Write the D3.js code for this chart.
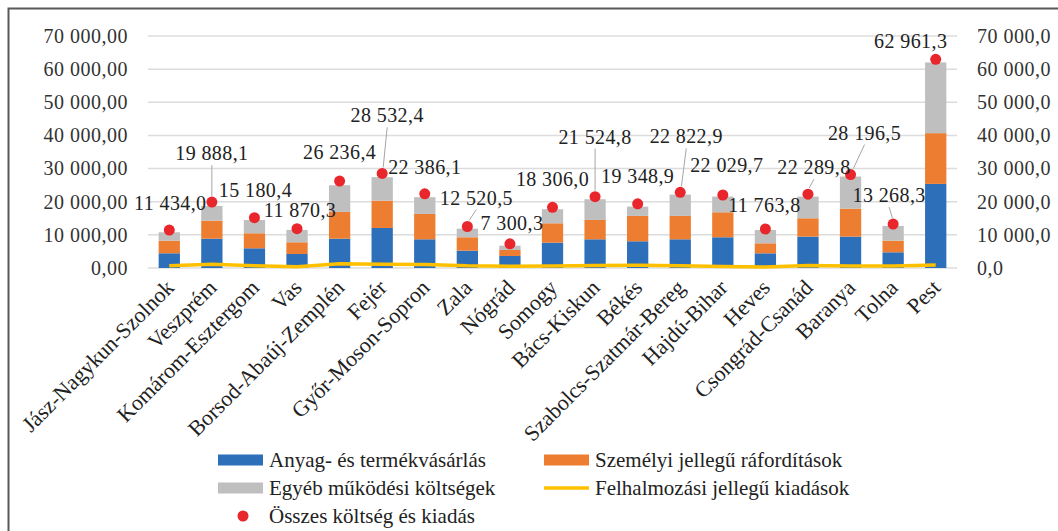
<!DOCTYPE html>
<html>
<head>
<meta charset="utf-8">
<script src="https://cdn.jsdelivr.net/npm/d3@7"></script>
<style>
  body { margin: 0; background: #fff; }
  svg { display: block; font-family: "Liberation Serif", "Times New Roman", serif; }
</style>
</head>
<body>
<svg width="1058" height="531"></svg>
<script>
// megyék
var counties = ["Jász-Nagykun-Szolnok", "Veszprém", "Komárom-Esztergom", "Vas", "Borsod-Abaúj-Zemplén",
  "Fejér", "Győr-Moson-Sopron", "Zala", "Nógrád", "Somogy", "Bács-Kiskun", "Békés",
  "Szabolcs-Szatmár-Bereg", "Hajdú-Bihar", "Heves", "Csongrád-Csanád", "Baranya", "Tolna", "Pest"];

var anyag     = [4440, 8850, 5950, 4230, 8850, 12080, 8660, 5230, 3630, 7650, 8660, 8060, 8660, 9270, 4430, 9470, 9470, 4740, 25380];
var szemelyi  = [3810, 5440, 4530, 3530, 8070, 8250, 7650, 4040, 1810, 5840, 5840, 7650, 7050, 7550, 3020, 5530, 8450, 3510, 15310];
var egyeb     = [2530, 4440, 4020, 3720, 8060, 7070, 5050, 2600, 1300, 4240, 6250, 2810, 6440, 4730, 4030, 6550, 9680, 4440, 21340];
var felhalm   = [650, 1150, 680, 390, 1250, 1130, 1030, 650, 560, 580, 780, 830, 670, 480, 280, 740, 600, 580, 930];
var osszes    = [11434.0, 19888.1, 15180.4, 11870.3, 26236.4, 28532.4, 22386.1, 12520.5, 7300.3, 18306.0,
  21524.8, 19348.9, 22822.9, 22029.7, 11763.8, 22289.8, 28196.5, 13268.3, 62961.3];

var yTicks = [0, 10000, 20000, 30000, 40000, 50000, 60000, 70000];

// címkék eltolása a pöttyhöz képest (px), és hogy kell-e vezetővonal
var labelShift = [[1,-27,0],[0,-49,1],[1,-28,0],[3,-19,0],[0,-29,0],[5,-58,1],[0,-27,0],[9,-29,1],[2,-21,0],
  [0,-28,0],[0,-60,1],[0,-28,0],[6,-56,1],[4,-30,0],[-1,-24,0],[6,-27,1],[14,-42,1],[-4,-29,1],[-25,-18,0]];

var colors = {anyag: "#2e6fba", szemelyi: "#ed7d31", egyeb: "#bfbfbf", felhalm: "#ffc000", osszes: "#e8262b"};

var hu = d3.formatLocale({decimal: ",", thousands: " ", grouping: [3], currency: ["", ""]});
var fmt2 = hu.format(",.2f"), fmt1 = hu.format(",.1f");

var svg = d3.select("svg");

// keret
svg.append("rect").attr("x", 8.5).attr("y", 8.5).attr("width", 1100).attr("height", 600)
  .attr("fill", "none").attr("stroke", "#595959").attr("stroke-width", 2);

var x = d3.scaleBand().domain(counties).range([148, 957]).paddingInner(0.5).paddingOuter(0.25);
var y = d3.scaleLinear().domain([0, 70000]).range([268, 36]);

// rács
svg.append("g").selectAll("line").data(yTicks).enter().append("line")
  .attr("x1", 148).attr("x2", 957)
  .attr("y1", function(d){ return y(d); }).attr("y2", function(d){ return y(d); })
  .attr("stroke", "#dcdcdc").attr("stroke-width", 1.5);

var leftAxis = svg.append("g").attr("transform", "translate(128,0)")
  .call(d3.axisLeft(y).tickValues(yTicks).tickFormat(fmt2).tickSize(0).tickPadding(0));
var rightAxis = svg.append("g").attr("transform", "translate(977,0)")
  .call(d3.axisRight(y).tickValues(yTicks).tickFormat(fmt1).tickSize(0).tickPadding(0));
[leftAxis, rightAxis].forEach(function(a){
  a.select(".domain").remove();
  a.selectAll("text").attr("font-size", 20).attr("font-family", "Liberation Serif")
    .attr("fill", "#333").style("letter-spacing", "0.5px");
});

// halmozott oszlopok
var rows = counties.map(function(c, i){
  return {county: c, anyag: anyag[i], szemelyi: szemelyi[i], egyeb: egyeb[i]};
});
var stack = d3.stack().keys(["anyag", "szemelyi", "egyeb"])(rows);

svg.append("g").selectAll("g").data(stack).enter().append("g")
  .attr("fill", function(s){ return colors[s.key]; })
  .selectAll("rect").data(function(s){ return s; }).enter().append("rect")
  .attr("x", function(d){ return x(d.data.county); })
  .attr("width", x.bandwidth())
  .attr("y", function(d){ return y(d[1]); })
  .attr("height", function(d){ return y(d[0]) - y(d[1]); });

// felhalmozási vonal
var line = d3.line()
  .x(function(d, i){ return x(counties[i]) + x.bandwidth() / 2; })
  .y(function(d){ return y(d); });
svg.append("path").datum(felhalm).attr("d", line)
  .attr("fill", "none").attr("stroke", colors.felhalm).attr("stroke-width", 3.5);

// összes pöttyök
svg.append("g").selectAll("circle").data(osszes).enter().append("circle")
  .attr("cx", function(d, i){ return x(counties[i]) + x.bandwidth() / 2; })
  .attr("cy", function(d){ return y(d); })
  .attr("r", 5.5).attr("fill", colors.osszes);

// adatcímkék
var lab = svg.append("g");
osszes.forEach(function(v, i){
  var cx = x(counties[i]) + x.bandwidth() / 2, cy = y(v);
  var s = labelShift[i];
  var lx = cx + s[0], ly = cy + s[1];
  if (s[2]) {
    lab.append("line").attr("x1", lx).attr("y1", ly + 12).attr("x2", cx + (lx - cx) * 0.2).attr("y2", cy - 6)
      .attr("stroke", "#a6a6a6").attr("stroke-width", 1);
  }
  lab.append("text").attr("x", lx).attr("y", ly).attr("dy", "0.35em")
    .attr("text-anchor", "middle").attr("font-size", 20).attr("fill", "#222")
    .style("letter-spacing", "0.4px")
    .text(fmt1(v));
});

// x tengely címkék
svg.append("g").selectAll("text").data(counties).enter().append("text")
  .attr("transform", function(d){ return "translate(" + (x(d) + x.bandwidth() / 2 + 6) + ",289) rotate(-45)"; })
  .attr("text-anchor", "end").attr("font-size", 22).attr("fill", "#222")
  .text(function(d){ return d; });

// jelmagyarázat
var legend = [
  {name: "Anyag- és termékvásárlás", key: "anyag", type: "rect", lx: 218, ly: 460},
  {name: "Személyi jellegű ráfordítások", key: "szemelyi", type: "rect", lx: 544, ly: 460},
  {name: "Egyéb működési költségek", key: "egyeb", type: "rect", lx: 218, ly: 488},
  {name: "Felhalmozási jellegű kiadások", key: "felhalm", type: "line", lx: 544, ly: 488},
  {name: "Összes költség és kiadás", key: "osszes", type: "dot", lx: 218, ly: 516}
];
var lg = svg.append("g").selectAll("g").data(legend).enter().append("g")
  .attr("transform", function(d){ return "translate(" + d.lx + "," + d.ly + ")"; });
lg.each(function(d){
  var g = d3.select(this);
  if (d.type === "rect") g.append("rect").attr("x", 0).attr("y", -5.5).attr("width", 45).attr("height", 11).attr("fill", colors[d.key]);
  else if (d.type === "line") g.append("line").attr("x1", 0).attr("x2", 45).attr("y1", 0).attr("y2", 0).attr("stroke", colors[d.key]).attr("stroke-width", 3.5);
  else g.append("circle").attr("cx", 25).attr("cy", 0).attr("r", 5.5).attr("fill", colors[d.key]);
});
lg.append("text").attr("x", 51).attr("y", 0).attr("dy", "0.35em")
  .attr("font-size", 21).attr("fill", "#222")
  .text(function(d){ return d.name; });
</script>
</body>
</html>
